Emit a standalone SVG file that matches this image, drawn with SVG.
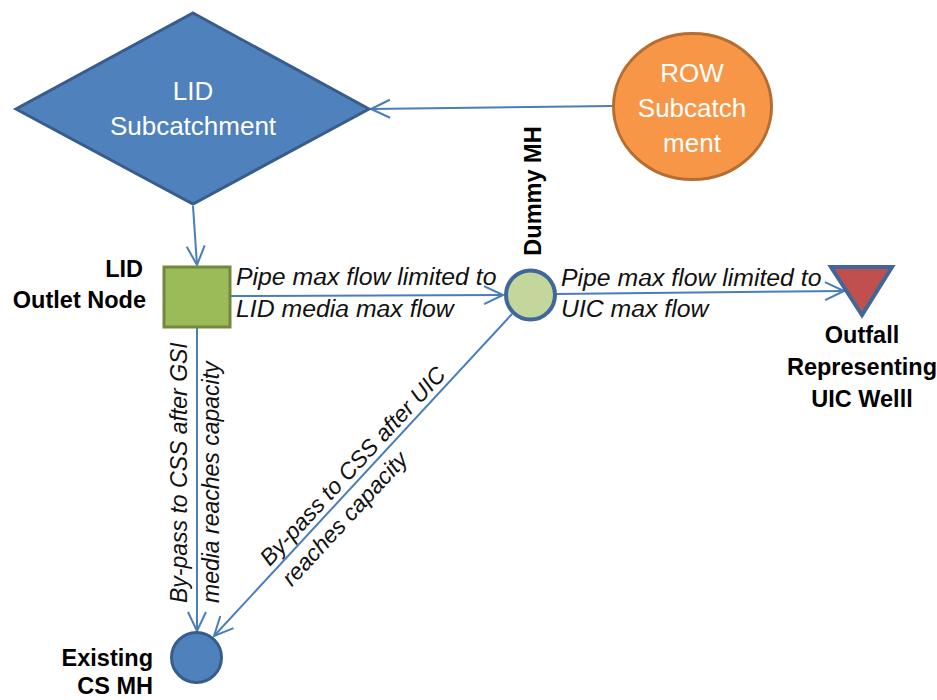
<svg xmlns="http://www.w3.org/2000/svg" width="937" height="700" viewBox="0 0 937 700">
<style>
.nodetxt{font-family:"Liberation Sans",Arial,sans-serif;font-size:26px;fill:#ffffff;text-anchor:middle}
.lbl{font-family:"Liberation Sans",Arial,sans-serif;font-size:23.5px;font-weight:bold;fill:#000000}
.edge{font-family:"Liberation Sans",Arial,sans-serif;font-size:23px;font-style:italic;fill:#111111}
.edgeh{font-size:24.8px}
.conn{stroke:#4A7EBB;stroke-width:2;fill:none}
</style>
<defs>
<marker id="arr" markerUnits="userSpaceOnUse" markerWidth="22" markerHeight="22" viewBox="0 0 22 22" refX="20" refY="11" orient="auto">
<path d="M1,2 L20,11 L1,20" fill="none" stroke="#4A7EBB" stroke-width="2"/>
</marker>
</defs>
<rect width="937" height="700" fill="#ffffff"/>
<g id="connectors">
<line class="conn" x1="613" y1="106" x2="371" y2="109" marker-end="url(#arr)"/>
<line class="conn" x1="193" y1="206" x2="197" y2="265" marker-end="url(#arr)"/>
<line class="conn" x1="231" y1="296" x2="503" y2="295" marker-end="url(#arr)"/>
<line class="conn" x1="556" y1="294" x2="844" y2="291" marker-end="url(#arr)"/>
<line class="conn" x1="197" y1="328" x2="197" y2="631" marker-end="url(#arr)"/>
<line class="conn" x1="512" y1="314" x2="214" y2="636" marker-end="url(#arr)"/>
<text class="edge edgeh" x="236" y="285">Pipe max flow limited to</text>
<text class="edge edgeh" x="236" y="317">LID media max flow</text>
<text class="edge edgeh" x="561" y="286">Pipe max flow limited to</text>
<text class="edge edgeh" x="561" y="317">UIC max flow</text>
<g transform="translate(197,603) rotate(-90)">
<text class="edge" x="0" y="-10">By-pass to CSS after GSI</text>
<text class="edge" x="0" y="22">media reaches capacity</text>
</g>
<g transform="translate(213,637) rotate(-47.2)">
<text class="edge" x="90" y="-6">By-pass to CSS after UIC</text>
<text class="edge" x="90" y="24">reaches capacity</text>
</g>
</g>
<g id="lid-subcatchment">
<polygon points="193,13 369,109 193,204 16,109" fill="#4F81BD" stroke="#385D8A" stroke-width="3"/>
<text class="nodetxt" x="193" y="100">LID</text>
<text class="nodetxt" x="193" y="135">Subcatchment</text>
</g>
<g id="row-subcatchment">
<ellipse cx="692.5" cy="106.5" rx="79" ry="73" fill="#F79646" stroke="#B66D31" stroke-width="3"/>
<text class="nodetxt" x="692" y="82">ROW</text>
<text class="nodetxt" x="692" y="117">Subcatch</text>
<text class="nodetxt" x="692" y="152">ment</text>
</g>
<g id="lid-outlet-node">
<rect x="164" y="267" width="66" height="60" fill="#9BBB59" stroke="#71893F" stroke-width="3"/>
<text class="lbl" x="143" y="277" text-anchor="end">LID</text>
<text class="lbl" x="146" y="308" text-anchor="end">Outlet Node</text>
</g>
<g id="dummy-mh">
<circle cx="530.5" cy="295" r="24.5" fill="#C3D69B" stroke="#41679A" stroke-width="4"/>
<text class="lbl" transform="translate(541,191) rotate(-90)" text-anchor="middle">Dummy MH</text>
</g>
<g id="outfall">
<polygon points="831,267 892,267 862,315" fill="#C0504D" stroke="#41679A" stroke-width="4"/>
<text class="lbl" x="862" y="343" text-anchor="middle">Outfall</text>
<text class="lbl" x="862" y="375" text-anchor="middle">Representing</text>
<text class="lbl" x="862" y="407" text-anchor="middle">UIC Welll</text>
</g>
<g id="existing-cs-mh">
<circle cx="196.5" cy="657.5" r="25" fill="#4F81BD" stroke="#385D8A" stroke-width="3"/>
<text class="lbl" x="153" y="666" text-anchor="end">Existing</text>
<text class="lbl" x="153" y="694" text-anchor="end">CS MH</text>
</g>
</svg>
